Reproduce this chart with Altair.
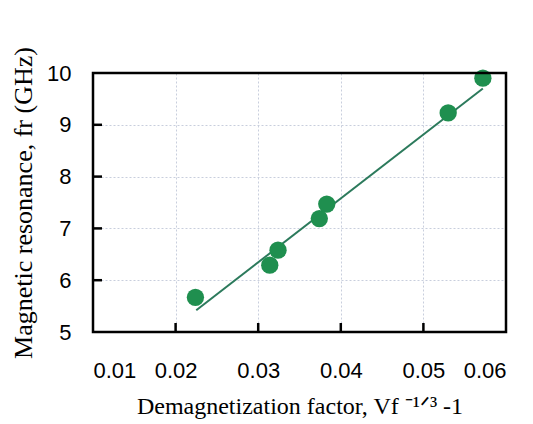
import altair as alt
import pandas as pd

# measured points
demag = [0.0224, 0.0314, 0.0324, 0.0374, 0.0383, 0.0530, 0.0572]
freq = [5.67, 6.29, 6.58, 7.19, 7.47, 9.23, 9.90]

# fitted line end points
fit_x = [0.0225, 0.0572]
fit_y = [5.42, 9.70]

x_ticks = [0.01, 0.02, 0.03, 0.04, 0.05, 0.06]
y_ticks = [5, 6, 7, 8, 9, 10]

pts = pd.DataFrame({"x": demag, "y": freq})
fit = pd.DataFrame({"x": fit_x, "y": fit_y})
xt = pd.DataFrame({"tx": x_ticks[1:-1]})
yt = pd.DataFrame({"ty": y_ticks[1:-1]})
frame = pd.DataFrame({"k": [0]})

W, H = 413, 259

xs = alt.Scale(domain=[0.01, 0.06], nice=False, zero=False)
ys = alt.Scale(domain=[5, 10], nice=False, zero=False)

GREEN = "#1f8f4f"

xaxis = alt.Axis(values=x_ticks, format=".2f", tickSize=0, labelPadding=28,
                 labelFont="Liberation Sans", labelFontSize=22, labelColor="#000",
                 title="Demagnetization factor, Vf ⁻¹ᐟ³ -1", titleFont="Liberation Serif",
                 titleFontSize=24, titleFontWeight="normal", titleColor="#000", titlePadding=13,
                 grid=True, gridColor="#c8cedd", gridDash=[2, 2], gridWidth=1,
                 domain=False)
yaxis = alt.Axis(values=y_ticks, format="d", tickSize=0, labelPadding=22,
                 labelFont="Liberation Sans", labelFontSize=22, labelColor="#000",
                 title="Magnetic resonance, fr (GHz)", titleFont="Liberation Serif",
                 titleFontSize=26, titleFontWeight="normal", titleColor="#000", titlePadding=10,
                 grid=True, gridColor="#c8cedd", gridDash=[2, 2], gridWidth=1,
                 domain=False)

base_pts = alt.Chart(pts).mark_circle(size=300, color=GREEN, opacity=1).encode(
    x=alt.X("x:Q", scale=xs, axis=xaxis),
    y=alt.Y("y:Q", scale=ys, axis=yaxis),
)

line = alt.Chart(fit).mark_line(color="#2c7a5c", strokeWidth=2).encode(
    x=alt.X("x:Q", scale=xs), y=alt.Y("y:Q", scale=ys)
)

xtick = alt.Chart(xt).mark_rule(color="#000", strokeWidth=2.5).encode(
    x=alt.X("tx:Q", scale=xs), y=alt.value(H), y2=alt.value(H - 9)
)
ytick = alt.Chart(yt).mark_rule(color="#000", strokeWidth=2.5).encode(
    y=alt.Y("ty:Q", scale=ys), x=alt.value(0), x2=alt.value(9)
)

box = alt.Chart(frame).mark_rect(fill=None, stroke="#000", strokeWidth=2.5).encode(
    x=alt.value(0), x2=alt.value(W), y=alt.value(0), y2=alt.value(H)
)

chart = alt.layer(line, base_pts, xtick, ytick, box).properties(
    width=W, height=H,
    background="white",
    autosize=alt.AutoSizeParams(type="none"),
    padding={"left": 93, "top": 73, "right": 27, "bottom": 92},
).configure_view(stroke=None)

chart.save("out.html", embed_options={"renderer": "svg", "actions": False})
